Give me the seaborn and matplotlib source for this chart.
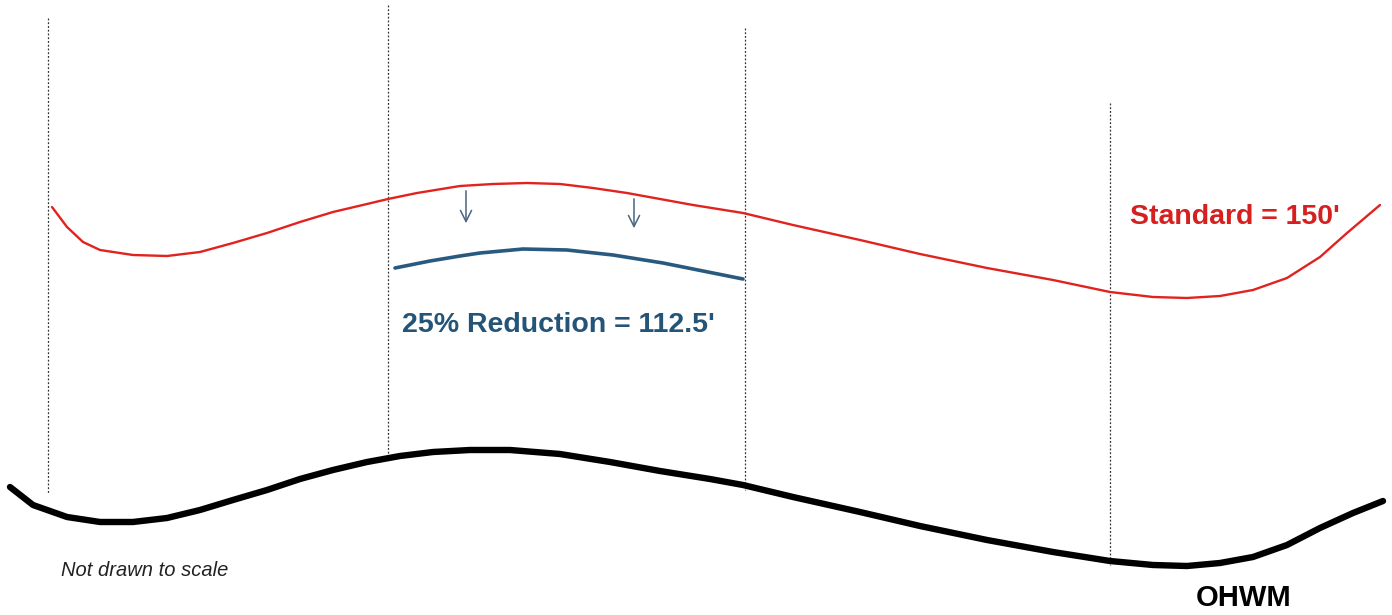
import pandas as pd
import matplotlib.pyplot as plt
import seaborn as sns

# Curves (pixel space, y grows downward)
standard_x = [52, 67, 83, 100, 133, 167, 200, 233, 267, 300, 333, 367, 388, 417, 460,
              493, 527, 560, 593, 627, 660, 693, 743, 793, 860, 920, 987, 1053, 1110,
              1153, 1187, 1220, 1253, 1287, 1320, 1347, 1380]
standard_y = [207, 227, 242, 250, 255, 256, 252, 243, 233, 222, 212, 204, 199, 193, 186,
              184, 183, 184, 188, 193, 199, 205, 213, 225, 240, 254, 268, 280, 292,
              297, 298, 296, 290, 278, 257, 233, 205]

reduced_x = [395, 430, 460, 480, 523, 567, 613, 663, 713, 743]
reduced_y = [268, 261, 256, 253, 249, 250, 255, 263, 273, 279]

ohwm_x = [10, 33, 67, 100, 133, 167, 200, 233, 267, 300, 333, 367, 400, 433, 470,
          510, 560, 610, 660, 710, 743, 793, 860, 920, 987, 1053, 1110, 1153, 1187,
          1220, 1253, 1287, 1320, 1353, 1383]
ohwm_y = [487, 505, 517, 522, 522, 518, 510, 500, 490, 479, 470, 462, 456, 452, 450,
          450, 454, 462, 471, 479, 485, 497, 512, 526, 540, 552, 561, 565, 566,
          563, 557, 545, 528, 513, 501]

# dotted vertical guides: x, top, bottom
guide_x = [48, 388, 745, 1110]
guide_top = [18, 5, 28, 103]
guide_bottom = [493, 455, 490, 565]

# arrows: x, start, end
arrow_x = [466, 634]
arrow_top = [188, 196]
arrow_bottom = [226, 231]

sns.set_style("white")
plt.rcParams['font.family'] = ['Liberation Sans', 'DejaVu Sans']

fig = plt.figure(figsize=(13.92, 6.15), dpi=100)
ax = fig.add_axes([0, 0, 1, 1])

for gx, t, b in zip(guide_x, guide_top, guide_bottom):
    ax.plot([gx, gx], [t, b], color='#333333', lw=0.9, ls=(0, (1.5, 1.5)))

std = pd.DataFrame({'x': standard_x, 'y': standard_y})
red = pd.DataFrame({'x': reduced_x, 'y': reduced_y})
ohw = pd.DataFrame({'x': ohwm_x, 'y': ohwm_y})

sns.lineplot(data=std, x='x', y='y', sort=False, estimator=None, color='#e0231f', lw=1.7, ax=ax)
sns.lineplot(data=red, x='x', y='y', sort=False, estimator=None, color='#285a80', lw=2.6, ax=ax)
sns.lineplot(data=ohw, x='x', y='y', sort=False, estimator=None, color='black', lw=4.6,
             solid_capstyle='round', ax=ax)

for ax_x, t, b in zip(arrow_x, arrow_top, arrow_bottom):
    ax.annotate('', xy=(ax_x, b), xytext=(ax_x, t),
                arrowprops=dict(arrowstyle='->', color='#4a6580', lw=1.1, mutation_scale=20))

ax.text(1130, 217, "Standard = 150'", color='#d61f1f', fontsize=20.5, fontweight='bold',
        va='center', ha='left')
ax.text(402, 325, "25% Reduction = 112.5'", color='#245478', fontsize=20.5, fontweight='bold',
        va='center', ha='left')
ax.text(1196, 598, "OHWM", color='black', fontsize=21, fontweight='bold', va='center', ha='left')
ax.text(61, 570, "Not drawn to scale", color='#222222', fontsize=14.5, fontstyle='italic',
        va='center', ha='left')

ax.set_xlim(0, 1392)
ax.set_ylim(615, 0)
ax.axis('off')

fig.savefig('out.png', dpi=100)
